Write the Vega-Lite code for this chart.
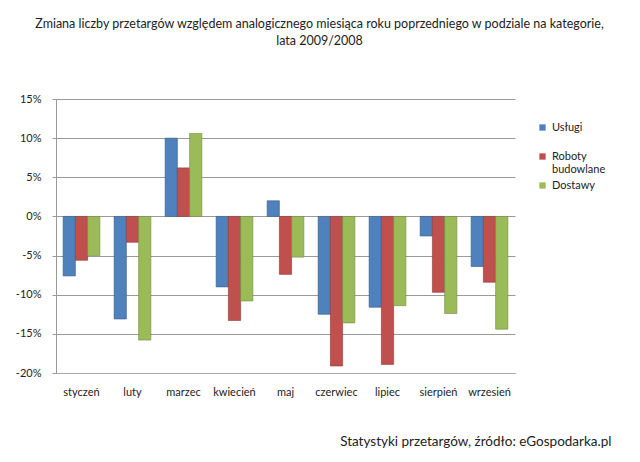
{
  "$schema": "https://vega.github.io/schema/vega-lite/v6.json",
  "width": 459,
  "height": 274,
  "autosize": {"type": "none"},
  "padding": {"left": 56, "top": 99, "right": 125, "bottom": 89},
  "background": "white",
  "title": {
    "text": ["Zmiana liczby przetargów względem analogicznego miesiąca roku poprzedniego w podziale na kategorie,", "lata 2009/2008"],
    "font": "Lato",
    "fontSize": 12.5,
    "fontWeight": "normal",
    "color": "#222",
    "anchor": "middle",
    "dx": 34,
    "offset": 46,
    "lineHeight": 17
  },
  "data": {
    "values": [
      {"m": "styczeń", "k": "Usługi", "v": -7.6},
      {"m": "styczeń", "k": "Roboty budowlane", "v": -5.6},
      {"m": "styczeń", "k": "Dostawy", "v": -5.0},
      {"m": "luty", "k": "Usługi", "v": -13.1},
      {"m": "luty", "k": "Roboty budowlane", "v": -3.3},
      {"m": "luty", "k": "Dostawy", "v": -15.8},
      {"m": "marzec", "k": "Usługi", "v": 10.0},
      {"m": "marzec", "k": "Roboty budowlane", "v": 6.2},
      {"m": "marzec", "k": "Dostawy", "v": 10.6},
      {"m": "kwiecień", "k": "Usługi", "v": -9.0},
      {"m": "kwiecień", "k": "Roboty budowlane", "v": -13.3},
      {"m": "kwiecień", "k": "Dostawy", "v": -10.8},
      {"m": "maj", "k": "Usługi", "v": 2.0},
      {"m": "maj", "k": "Roboty budowlane", "v": -7.4},
      {"m": "maj", "k": "Dostawy", "v": -5.2},
      {"m": "czerwiec", "k": "Usługi", "v": -12.5},
      {"m": "czerwiec", "k": "Roboty budowlane", "v": -19.1},
      {"m": "czerwiec", "k": "Dostawy", "v": -13.6},
      {"m": "lipiec", "k": "Usługi", "v": -11.6},
      {"m": "lipiec", "k": "Roboty budowlane", "v": -18.9},
      {"m": "lipiec", "k": "Dostawy", "v": -11.4},
      {"m": "sierpień", "k": "Usługi", "v": -2.5},
      {"m": "sierpień", "k": "Roboty budowlane", "v": -9.7},
      {"m": "sierpień", "k": "Dostawy", "v": -12.4},
      {"m": "wrzesień", "k": "Usługi", "v": -6.4},
      {"m": "wrzesień", "k": "Roboty budowlane", "v": -8.4},
      {"m": "wrzesień", "k": "Dostawy", "v": -14.4}
    ]
  },
  "mark": {"type": "bar", "strokeWidth": 0.6},
  "encoding": {
    "x": {
      "field": "m",
      "type": "nominal",
      "sort": null,
      "scale": {"paddingInner": 0.28, "paddingOuter": 0.14},
      "axis": {
        "title": "Statystyki przetargów, źródło: eGospodarka.pl",
        "titleFont": "Lato",
        "titleFontSize": 13.5,
        "titleFontWeight": "normal",
        "titleColor": "#222",
        "titleAlign": "right",
        "titleAnchor": "end",
        "titleX": 555,
        "titleY": 61,
        "labelAngle": 0,
        "labelFont": "Lato",
        "labelFontSize": 11,
        "labelColor": "#222",
        "labelPadding": 13,
        "ticks": false,
        "domain": true,
        "domainColor": "#aaa"
      }
    },
    "xOffset": {
      "field": "k",
      "type": "nominal",
      "sort": ["Usługi", "Roboty budowlane", "Dostawy"],
      "scale": {"paddingInner": 0, "paddingOuter": 0}
    },
    "y": {
      "field": "v",
      "type": "quantitative",
      "scale": {"domain": [-20, 15], "nice": false},
      "axis": {
        "title": null,
        "values": [-20, -15, -10, -5, 0, 5, 10, 15],
        "labelExpr": "datum.value + '%'",
        "labelFont": "Lato",
        "labelFontSize": 11,
        "labelColor": "#222",
        "labelPadding": 11,
        "tickSize": 4,
        "tickColor": "#999",
        "domainColor": "#999",
        "gridColor": "#9a9a9a",
        "gridWidth": 1
      }
    },
    "color": {
      "field": "k",
      "type": "nominal",
      "sort": ["Usługi", "Roboty budowlane", "Dostawy"],
      "scale": {"domain": ["Usługi", "Roboty budowlane", "Dostawy"], "range": ["#4F81BD", "#C0504D", "#9BBB59"]},
      "legend": {
        "title": null,
        "orient": "none",
        "legendX": 481,
        "legendY": 23,
        "symbolType": "square",
        "symbolSize": 40,
        "symbolStrokeWidth": 0,
        "labelFont": "Lato",
        "labelFontSize": 11,
        "labelColor": "#222",
        "rowPadding": 4,
        "labelExpr": "datum.label == 'Roboty budowlane' ? ['Roboty', 'budowlane'] : [datum.label, ' ']"
      }
    },
    "stroke": {
      "field": "k",
      "type": "nominal",
      "scale": {"domain": ["Usługi", "Roboty budowlane", "Dostawy"], "range": ["#385D8A", "#8C3836", "#71893F"]},
      "legend": null
    }
  },
  "config": {"view": {"stroke": null}}
}
